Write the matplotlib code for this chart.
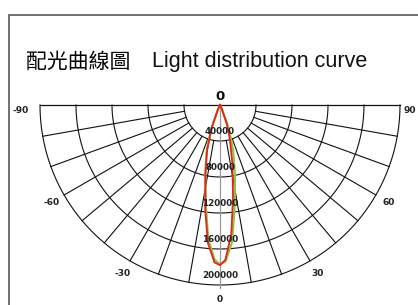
import numpy as np
import matplotlib.pyplot as plt
from matplotlib.patches import Rectangle

# angle (deg) vs luminous intensity
angles = [-30, -25, -20, -16, -12, -8, -5, -2, 0, 2, 5, 8, 12, 16, 20, 25, 30]
red_vals = [0, 5000, 27000, 52000, 78000, 118000, 154000, 175000, 178000,
            172000, 144000, 104000, 66000, 40000, 22000, 4000, 0]
green_vals = [0, 6000, 30000, 54000, 79000, 113000, 150000, 172000, 177000,
              174000, 153000, 116000, 80000, 53000, 30000, 6000, 0]

ring_vals = [40000, 80000, 120000, 160000, 200000]
angle_labels = [-90, -60, -30, 0, 30, 60, 90]
rmax = 200000

fig = plt.figure(figsize=(4.18, 3.05), dpi=100)

# grey frame running off the right/bottom edge
fig.patches.append(Rectangle((9 / 418, -0.2), 1.2, 1 - 15 / 305 + 0.2,
                             transform=fig.transFigure, fill=False,
                             edgecolor='#666666', linewidth=1.3))

fig.text(26 / 418, 1 - 62 / 305, '配光曲線圖', family=['Noto Sans CJK TC', 'DejaVu Sans'],
         fontsize=15, va='center', ha='left', color='#000000')
fig.text(152 / 418, 1 - 62 / 305, 'Light distribution curve',
         family=['Liberation Sans', 'DejaVu Sans'], fontsize=15.5, va='center', ha='left',
         color='#111111')

# wedge is fitted in the middle of the box, so box is square around the half disc
ax = fig.add_axes([40 / 418, (305 - 375) / 305, 360 / 418, 360 / 305], projection='polar')
ax.set_theta_zero_location('S')
ax.set_thetamin(-90)
ax.set_thetamax(90)
ax.set_ylim(0, rmax)
ax.axis('off')

# hand drawn grid
t = np.deg2rad(np.linspace(-90, 90, 361))
for r in ring_vals:
    ax.plot(t, np.full_like(t, r), color='#111111', lw=0.8, clip_on=False)
for a in range(-80, 90, 10):
    if a == 0:
        continue
    ax.plot([np.deg2rad(a)] * 2, [ring_vals[0], rmax], color='#111111', lw=0.8, clip_on=False)
for a in (-90, 90):
    ax.plot([np.deg2rad(a)] * 2, [0, rmax], color='#111111', lw=0.9, clip_on=False)
ax.plot([0, 0], [0, 203000], color='#999999', lw=0.9, clip_on=False)

# curves
th = np.deg2rad(angles)
ax.plot(th, green_vals, color='#8cc63e', lw=1.6, clip_on=False)
ax.plot(th, red_vals, color='#e8231e', lw=1.3, clip_on=False)

for r in ring_vals:
    ax.text(0, r - 10000, str(r), ha='center', va='center', fontsize=6.3,
            fontweight='bold', color='#222222')

for a in angle_labels:
    rr = 216000
    aa = a
    if abs(a) == 90:
        aa = np.sign(a) * 88.3
        rr = 222000 if a < 0 else 211000
    ax.text(np.deg2rad(aa), rr, str(a), ha='center', va='center', fontsize=6.5,
            fontweight='bold', color='#222222', clip_on=False)

fig.text(220 / 418, 1 - 96 / 305, '0', ha='center', va='center', fontsize=9.5,
         fontweight='bold', color='#111111')

fig.savefig('out.png', dpi=100)
